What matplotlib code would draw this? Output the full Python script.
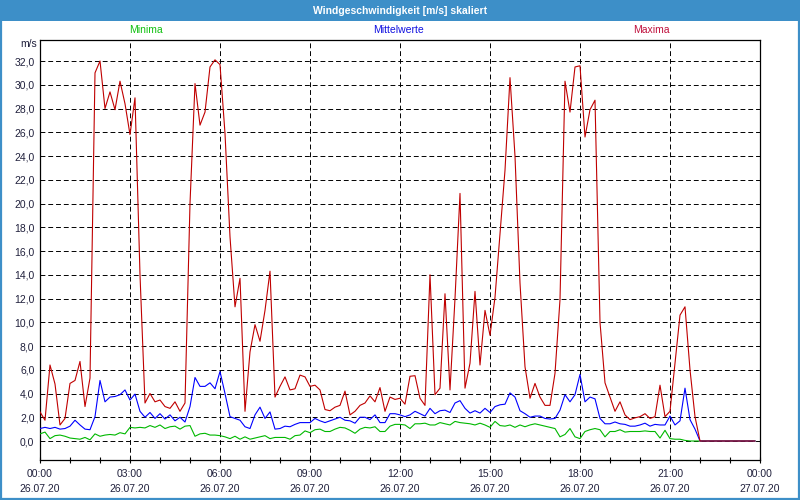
import numpy as np
import matplotlib
matplotlib.use('Agg')
import matplotlib.pyplot as plt
from matplotlib.patches import Rectangle

plt.rcParams['font.family'] = ['Liberation Sans', 'DejaVu Sans']

# 10-minute values, 26.07.20 00:00 .. 23:50
maxima = [2.45, 1.75, 6.4, 4.8, 1.35, 1.9, 4.85, 5.1, 6.7, 2.9, 5.3,
          31.0, 32.0, 28.0, 29.4, 27.9, 30.3, 28.4, 25.8, 28.9, 14.0, 3.2,
          4.0, 3.3, 3.45, 2.9, 2.75, 3.3, 2.5, 3.2, 20.0, 30.1, 26.6, 27.7, 31.5, 32.1, 31.7,
          25.9, 17.2, 11.3, 13.7, 2.5, 7.5, 9.8, 8.4, 11.0, 14.3, 3.7, 4.6,
          5.4, 4.3, 4.4, 5.55, 5.4, 4.6, 4.7, 4.3, 2.65, 2.55, 2.85, 3.0, 4.2, 2.2, 2.5, 3.0,
          3.2, 3.8, 3.3, 4.5, 2.5, 3.7, 3.5, 3.6, 3.1, 5.45,
          5.5, 3.6, 3.0, 14.0, 3.9, 4.45, 12.4, 4.3, 12.0, 20.85, 4.45, 6.55, 12.6, 6.4, 11.0,
          8.9, 12.1, 17.5, 22.8, 30.6, 24.0, 13.3, 6.25, 3.6, 4.85, 3.7, 3.0, 3.0, 5.7, 11.9,
          30.3, 27.7, 31.5, 31.6, 25.6, 27.9, 28.7, 10.0, 4.9, 3.7, 2.5, 3.3, 2.2, 1.8, 1.95,
          2.05, 2.3, 1.9, 2.05, 4.7, 2.05, 2.5, 6.55, 10.6, 11.3, 6.0, 2.05, 0,
          0, 0, 0, 0, 0, 0, 0, 0, 0, 0, 0]

mittel = [1.05, 1.15, 1.05, 1.15, 1.0, 1.05, 1.25, 1.75, 1.35, 1.0, 0.95,
          2.05, 5.1, 3.3, 3.7, 3.75, 3.9, 4.3, 3.45, 3.95, 2.5, 2.0, 2.4, 1.9, 2.3, 1.85,
          2.2, 1.7, 2.0, 1.6, 2.9, 5.35, 4.6, 4.6, 4.9, 4.4, 5.85, 4.0, 2.05, 1.9, 1.75,
          1.2, 1.05, 2.2, 2.85, 1.9, 2.45, 1.0, 1.05, 1.25, 1.2, 1.4, 1.55, 1.55, 1.55,
          1.9, 1.7, 1.55, 1.7, 1.85, 2.0, 1.75, 1.7, 1.5, 2.0, 2.0, 1.8, 2.2, 1.55, 1.55,
          2.3, 2.3,
          2.2, 2.05, 2.2, 2.5, 2.3, 2.1, 2.75, 2.3, 2.55, 2.6, 2.4, 3.2, 3.4, 2.75, 2.35,
          2.55, 2.35, 2.75, 2.4, 2.9, 3.05, 3.1, 4.05, 3.7, 2.55, 2.3, 2.0, 2.1, 2.1, 1.9,
          1.85, 1.9, 2.6,
          3.9, 3.3, 3.9, 5.6, 3.3, 3.7, 3.55, 1.9, 1.45, 1.45, 1.6, 1.45, 1.4, 1.25, 1.25,
          1.35, 1.5, 1.25, 1.4, 1.35, 1.35, 2.1, 1.35, 1.7, 4.45, 1.8, 1.0, 0,
          0, 0, 0, 0, 0, 0, 0, 0, 0, 0, 0]

minima = [0.6, 0.75, 0.2, 0.45, 0.5, 0.4, 0.25, 0.2, 0.15, 0.3, 0.1, 0.6, 0.4, 0.5,
          0.55, 0.5, 0.7, 0.6,
          1.15, 1.1, 1.15, 1.1, 1.3, 1.15, 1.35, 1.05, 1.2, 1.25, 1.0, 1.25, 1.3,
          0.4, 0.6, 0.65, 0.5, 0.5, 0.45,
          0.35, 0.2, 0.4, 0.15, 0.35, 0.15, 0.25, 0.35, 0.45, 0.2, 0.3, 0.3, 0.3, 0.15,
          0.45, 0.5,
          0.85, 0.7, 0.95, 1.0, 0.8, 0.8, 1.0, 1.15, 1.1, 0.9, 0.65, 1.0, 1.15, 1.1, 1.2,
          0.8, 0.8, 1.25, 1.4,
          1.4, 1.35, 1.05, 1.45, 1.45, 1.5, 1.35, 1.35, 1.55, 1.45, 1.35, 1.65, 1.55, 1.5,
          1.45, 1.35, 1.5, 1.35, 1.15, 1.65, 1.3, 1.25, 1.35, 1.15, 1.35, 1.2, 1.35, 1.45,
          1.35, 1.25, 1.15, 1.05, 0.35, 0.55, 1.05, 0.35, 0.2,
          0.8, 0.95, 1.05, 0.95, 0.35, 0.8, 0.8, 0.95, 0.75, 0.8, 0.8, 0.8, 0.85, 0.8,
          0.8, 0.25, 0.9, 0.2, 0.15, 0.15, 0.05, 0,
          0, 0, 0, 0, 0, 0, 0, 0, 0, 0, 0, 0, 0]

x_ticks = [0, 3, 6, 9, 12, 15, 18, 21, 24]
x_labels = ['00:00\n26.07.20', '03:00\n26.07.20', '06:00\n26.07.20', '09:00\n26.07.20',
            '12:00\n26.07.20', '15:00\n26.07.20', '18:00\n26.07.20', '21:00\n26.07.20',
            '00:00\n27.07.20']
y_ticks = np.arange(0, 33, 2)

hours = np.arange(len(maxima)) / 6.0

txt_col = '#20203c'
bar_col = '#3d8fc8'

fig = plt.figure(figsize=(8, 5), dpi=100)
fig.patch.set_facecolor('white')
ax = fig.add_axes([40/800, 40/500, 720/800, 420/500])

ax.plot(hours, minima, color='#00b800', lw=0.8, zorder=3)
ax.plot(hours, mittel, color='#0000ff', lw=0.8, zorder=4)
ax.plot(hours, maxima, color='#c00000', lw=0.8, zorder=5)

ax.set_xlim(0, 24)
ax.set_ylim(-1.6, 33.77)
ax.set_xticks(x_ticks)
ax.set_xticklabels(x_labels, fontsize=7.5, color=txt_col, linespacing=1.65)
ax.set_xticks(np.arange(0, 25, 1), minor=True)
ax.set_yticks(y_ticks)
ax.set_yticklabels([f'{v:.1f}'.replace('.', ',') for v in y_ticks], fontsize=7.5, color=txt_col)
ax.tick_params(axis='x', which='both', direction='inout', length=5, width=0.8, pad=4)
ax.tick_params(axis='y', length=0, pad=4)
ax.grid(True, which='major', color='black', lw=0.7, linestyle=(0, (5, 3)))
ax.set_axisbelow(True)
for s in ax.spines.values():
    s.set_linewidth(0.9)
    s.set_color('black')

# window title bar and frame
fig.patches.append(Rectangle((0, 1 - 21/500), 1, 21/500, transform=fig.transFigure,
                             facecolor=bar_col, edgecolor='none', zorder=0))
fig.patches.append(Rectangle((0.001, 0.002), 0.998, 0.996, transform=fig.transFigure,
                             facecolor='none', edgecolor=bar_col, lw=1.6, zorder=1))
fig.text(0.5, 1 - 10.5/500, 'Windgeschwindigkeit [m/s] skaliert', ha='center', va='center',
         color='white', fontsize=7.5, fontweight='bold')

fig.text(146/800, 1 - 30/500, 'Minima', ha='center', va='center', color='#10c010', fontsize=7.5)
fig.text(399/800, 1 - 30/500, 'Mittelwerte', ha='center', va='center', color='#1010e0', fontsize=7.5)
fig.text(651/800, 1 - 30/500, 'Maxima', ha='center', va='center', color='#c0103c', fontsize=7.5)
fig.text(37/800, 1 - 44/500, 'm/s', ha='right', va='center', color=txt_col, fontsize=7.5)

fig.savefig('out.png', dpi=100)
